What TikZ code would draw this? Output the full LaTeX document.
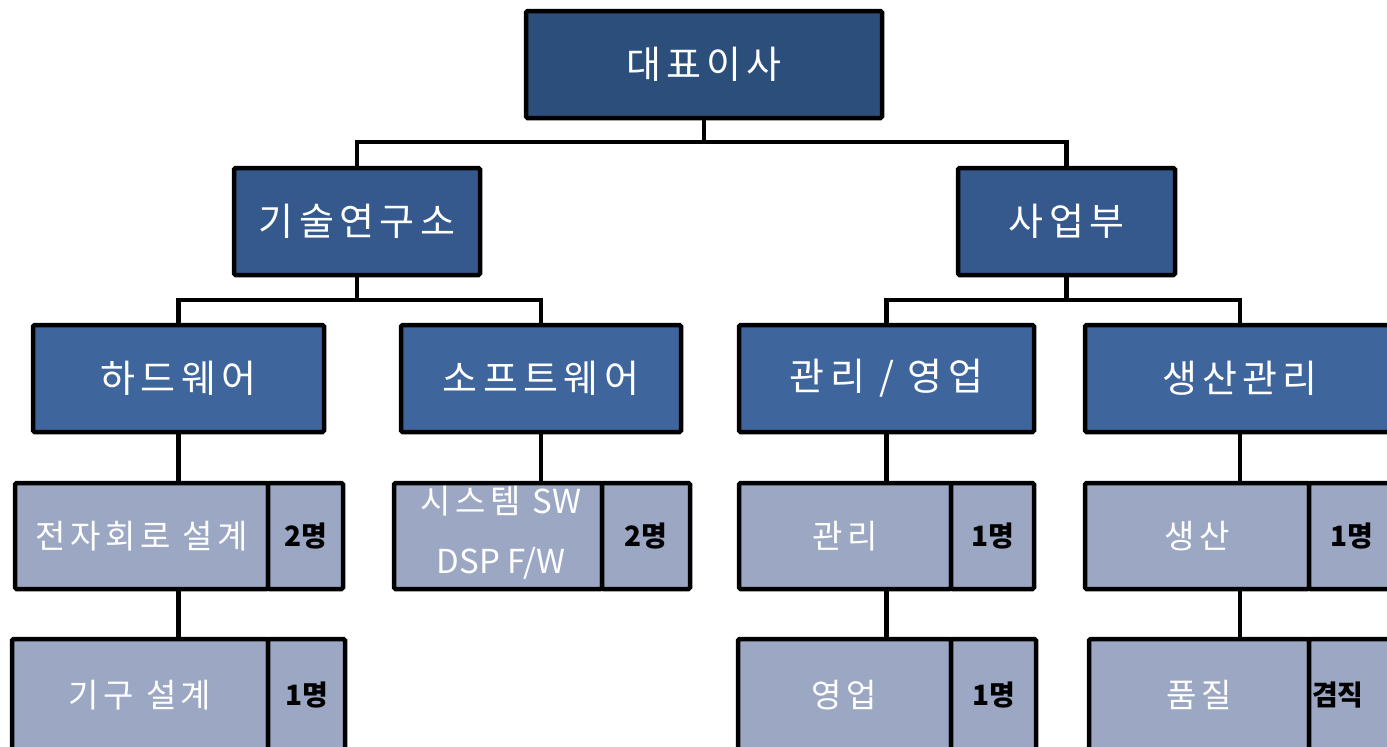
\documentclass[tikz,border=0pt]{standalone}
\usepackage{fontspec}
\newfontfamily\kr{Noto Sans CJK KR}[LetterSpace=14]
\newfontfamily\krc{Noto Sans CJK KR}
\definecolor{cTop}{HTML}{2C4E7B}
\definecolor{cMid}{HTML}{35598D}
\definecolor{cLow}{HTML}{3F669C}
\definecolor{cSub}{HTML}{9CA8C3}
\tikzset{
  box/.style={draw=black, line width=4.5pt, rounded corners=1.5pt, inner sep=0pt,
    text=white, font=\kr\fontsize{38}{44}\selectfont},
  topbox/.style={box, fill=cTop},
  midbox/.style={box, fill=cMid},
  lowbox/.style={box, fill=cLow},
  subbox/.style={box, fill=cSub, font=\kr\fontsize{33}{60}\selectfont},
  subtext/.style={text=white, font=\kr\fontsize{33}{60}\selectfont, align=center, inner sep=0pt},
  cntbox/.style={box, fill=cSub, text=black, font=\krc\bfseries\fontsize{28}{32}\selectfont},
  conn/.style={draw=black, line width=4.5pt, line join=miter}
}
\begin{document}
\begin{tikzpicture}[x=1pt,y=-1pt]
\useasboundingbox (0,0) rectangle (1387,747);
\clip (0,0) rectangle (1387,747);
% level 1
\node[topbox, minimum width=356pt, minimum height=107pt] (ceo) at (704,64.5) {대표이사};
% level 2
\node[midbox, minimum width=246pt, minimum height=107pt] (lab) at (357,221.5) {기술연구소};
\node[midbox, minimum width=217pt, minimum height=107pt] (biz) at (1066.5,221.5) {사업부};
% level 3
\node[lowbox, minimum width=291pt, minimum height=107pt] (hw) at (178.5,378.5) {하드웨어};
\node[lowbox, minimum width=280pt, minimum height=107pt] (sw) at (541,378.5) {소프트웨어};
\node[lowbox, minimum width=295pt, minimum height=107pt] (mg) at (886.5,378.5) {관리 / 영업};
\node[lowbox, minimum width=310pt, minimum height=107pt] (pm) at (1240,378.5) {생산관리};
% row 1
\node[subbox, minimum width=253pt, minimum height=106pt] (e1) at (141.5,536) {전자회로 설계};
\node[cntbox, minimum width=75pt, minimum height=106pt] (e1c) at (305.5,536) {2명};
\node[subbox, minimum width=208pt, minimum height=106pt] (s1) at (498,536) {};
\node[subtext] (s1t) at (501,533) {시스템 {\krc SW}\\{\krc DSP F/W}};
\node[cntbox, minimum width=88pt, minimum height=106pt] (s1c) at (646,536) {2명};
\node[subbox, minimum width=212pt, minimum height=106pt] (m1) at (845,536) {관리};
\node[cntbox, minimum width=83pt, minimum height=106pt] (m1c) at (992.5,536) {1명};
\node[subbox, minimum width=224pt, minimum height=106pt] (p1) at (1197,536) {생산};
\node[cntbox, minimum width=86pt, minimum height=106pt] (p1c) at (1352,536) {1명};
% row 2 (bottom edges run off the page)
\node[subbox, minimum width=256pt, minimum height=112pt] (k2) at (140,695) {기구 설계};
\node[cntbox, minimum width=77pt, minimum height=112pt] (k2c) at (306.5,695) {1명};
\node[subbox, minimum width=213pt, minimum height=112pt] (y2) at (844.5,695) {영업};
\node[cntbox, minimum width=85pt, minimum height=112pt] (y2c) at (993.5,695) {1명};
\node[subbox, minimum width=220pt, minimum height=112pt] (q2) at (1199,695) {품질};
\node[cntbox, minimum width=86pt, minimum height=112pt, text width=80pt, align=left] (q2c) at (1352,695) {겸직};
% connectors
\coordinate (j1) at (704,142);
\draw[conn] (ceo.south) -- (j1);
\draw[conn] (j1) -| (lab.north);
\draw[conn] (j1) -| (biz.north);
\coordinate (j2) at (357,300);
\draw[conn] (lab.south) -- (j2);
\draw[conn] (j2) -| (hw.north);
\draw[conn] (j2) -| (sw.north);
\coordinate (j3) at (1066.5,300);
\draw[conn] (biz.south) -- (j3);
\draw[conn] (j3) -| (mg.north);
\draw[conn] (j3) -| (pm.north);
\draw[conn] (hw.south) -- (hw.south |- e1.north);
\draw[conn] (sw.south) -- (sw.south |- s1.north);
\draw[conn] (mg.south) -- (mg.south |- m1.north);
\draw[conn] (pm.south) -- (pm.south |- p1.north);
\draw[conn] (hw.south |- e1.south) -- (hw.south |- k2.north);
\draw[conn] (mg.south |- m1.south) -- (mg.south |- y2.north);
\draw[conn] (pm.south |- p1.south) -- (pm.south |- q2.north);
\end{tikzpicture}
\end{document}
